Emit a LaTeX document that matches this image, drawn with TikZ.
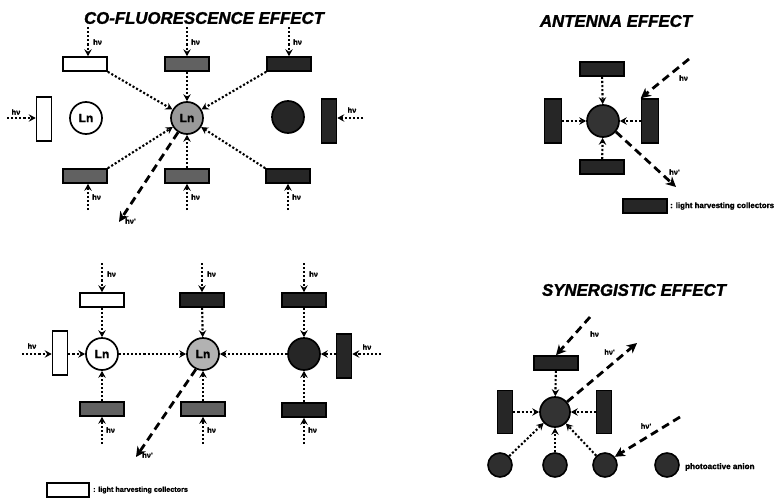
\documentclass[tikz,border=0pt]{standalone}
\usepackage{fontspec}
\setmainfont{Liberation Sans}
\newfontfamily\heavy{Liberation Sans Bold Italic}[FakeBold=1.6]
\newfontfamily\heavyup{Liberation Sans Bold}[FakeBold=1.2]
\usetikzlibrary{arrows.meta,calc}
\tikzset{
  hbox/.style={rectangle,draw=black,line width=1.6pt,minimum width=44pt,minimum height=14pt,inner sep=0pt},
  vbox/.style={rectangle,draw=black,line width=1.6pt,minimum width=15pt,minimum height=44pt,inner sep=0pt},
  ion/.style={circle,draw=black,line width=1.7pt,minimum size=32pt,inner sep=0pt,font=\heavyup\fontsize{12}{12}\selectfont},
  anion/.style={circle,draw=black,line width=1.6pt,minimum size=24pt,inner sep=0pt,fill=black!82},
  light/.style={fill=white},
  mid/.style={fill=black!62},
  dark/.style={fill=black!85},
  dotarr/.style={line width=2.1pt,dash pattern=on 2.1pt off 2pt,-{Stealth[length=7pt,width=7.5pt,inset=2.5pt]}},
  dasharr/.style={line width=2.8pt,dash pattern=on 8pt off 5pt,-{Stealth[length=10pt,width=10pt,inset=3pt]}},
  lab/.style={font=\heavyup\fontsize{7.5}{8}\selectfont,inner sep=1pt},
  ttl/.style={font=\heavy\fontsize{16.8}{17}\selectfont},
  leg/.style={font=\heavyup\fontsize{7.2}{8}\selectfont,inner sep=0pt}
}
\begin{document}
\begin{tikzpicture}[x=1pt,y=-1pt]
\useasboundingbox (0,0) rectangle (781,498);
% ================= CO-FLUORESCENCE =================
\node[ttl] (t1) at (204,18) {CO-FLUORESCENCE EFFECT};
\node[hbox,light] (tA) at (85,64) {};
\node[hbox,mid] (tB) at (187,64) {};
\node[hbox,dark] (tC) at (289,64) {};
\node[hbox,mid] (bA) at (85,176) {};
\node[hbox,mid] (bB) at (187,176) {};
\node[hbox,dark] (bC) at (288,176) {};
\node[vbox,light] (lV) at (44,119) {};
\node[vbox,dark] (rV) at (329,121) {};
\node[ion,fill=white] (cL) at (86,118) {Ln};
\node[ion,fill=black!40] (cM) at (187,118) {Ln};
\node[ion,fill=black!85] (cR) at (288,117) {};
\coordinate (h1) at (88,27); \coordinate (h2) at (187,27); \coordinate (h3) at (289,27);
\coordinate (g1) at (88,210); \coordinate (g2) at (187,210); \coordinate (g3) at (288,210);
\coordinate (hl) at (7,118); \coordinate (hr) at (363,118);
\coordinate (e1) at (119,222);
\draw[dotarr] (h1) -- (h1 |- tA.north);
\draw[dotarr] (h2) -- (tB.north);
\draw[dotarr] (h3) -- (tC.north);
\draw[dotarr] (g1) -- (g1 |- bA.south);
\draw[dotarr] (g2) -- (bB.south);
\draw[dotarr] (g3) -- (bC.south);
\draw[dotarr] (hl) -- (lV.west |- hl);
\draw[dotarr] (hr) -- (rV.east |- hr);
\node[lab,anchor=west] (l1) at (92,42) {hν};
\node[lab,anchor=west] (l2) at (190,42) {hν};
\node[lab,anchor=west] (l3) at (292,42) {hν};
\node[lab,anchor=west] (l4) at (91,197) {hν};
\node[lab,anchor=west] (l5) at (190,197) {hν};
\node[lab,anchor=west] (l6) at (291,197) {hν};
\node[lab] (l7) at (16,112) {hν};
\node[lab] (l8) at (352,110) {hν};
\draw[dotarr] (tA.south east) -- (cM);
\draw[dotarr] (tC.south west) -- (cM);
\draw[dotarr] (bA.north east) -- (cM);
\draw[dotarr] (bC.north west) -- (cM);
\draw[dotarr] (tB) -- (cM);
\draw[dotarr] (bB) -- (cM);
\draw[dasharr] (cM.238) -- (e1);
\node[lab,anchor=west] (l9) at (124,221) {hν'};
% ================= ANTENNA =================
\node[ttl] (t2) at (616,21) {ANTENNA EFFECT};
\node[hbox,dark] (aT) at (602,69) {};
\node[hbox,dark] (aB) at (602,167) {};
\node[vbox,dark,minimum width=17pt] (aL) at (553,121) {};
\node[vbox,dark,minimum width=17pt] (aR) at (650,121) {};
\node[ion,fill=black!80] (aC) at (603,121) {};
\draw[dotarr] (aT) -- (aC);
\draw[dotarr] (aB) -- (aC);
\draw[dotarr] (aL) -- (aC);
\draw[dotarr] (aR) -- (aC);
\coordinate (ai) at (689,59);
\coordinate (ao) at (676,187);
\draw[dasharr] (ai) -- (aR.north west);
\draw[dasharr] (aC.-40) -- (ao);
\node[lab,anchor=west] (l10) at (678,78) {hν};
\node[lab,anchor=west] (l11) at (668,172) {hν'};
\node[hbox,dark] (lg1) at (645,206) {};
\node[leg,anchor=west,font=\heavyup\fontsize{7.9}{9}\selectfont] (lt1) at (670,206) {: light harvesting collectors};
% ================= BOTTOM LEFT =================
\node[hbox,light] (p1) at (102,300) {};
\node[hbox,dark] (p2) at (202,300) {};
\node[hbox,dark] (p3) at (304,300) {};
\node[hbox,mid] (q1) at (102,409) {};
\node[hbox,mid] (q2) at (203,409) {};
\node[hbox,dark] (q3) at (304,410) {};
\node[vbox,light] (v1) at (60,353) {};
\node[vbox,dark] (v2) at (344,356) {};
\node[ion,fill=white] (k1) at (102,354) {Ln};
\node[ion,fill=black!30] (k2) at (203,354) {Ln};
\node[ion,fill=black!85] (k3) at (304,354) {};
\coordinate (m1) at (102,263); \coordinate (m2) at (202,263); \coordinate (m3) at (304,263);
\coordinate (n1) at (102,444); \coordinate (n2) at (203,444); \coordinate (n3) at (304,444);
\coordinate (ml) at (22,354); \coordinate (mr) at (381,354);
\coordinate (e2) at (136,457);
\draw[dotarr] (m1) -- (p1.north);
\draw[dotarr] (m2) -- (p2.north);
\draw[dotarr] (m3) -- (p3.north);
\draw[dotarr] (n1) -- (q1.south);
\draw[dotarr] (n2) -- (q2.south);
\draw[dotarr] (n3) -- (q3.south);
\draw[dotarr] (ml) -- (v1.west |- ml);
\draw[dotarr] (mr) -- (v2.east |- mr);
\draw[dotarr] (p1) -- (k1);
\draw[dotarr] (p2) -- (k2);
\draw[dotarr] (p3) -- (k3);
\draw[dotarr] (q1) -- (k1);
\draw[dotarr] (q2) -- (k2);
\draw[dotarr] (q3) -- (k3);
\draw[dotarr] (v1.east |- k1) -- (k1);
\draw[dotarr] (k1) -- (k2);
\draw[dotarr] (k3) -- (k2);
\draw[dotarr] (v2.west |- k3) -- (k3);
\draw[dasharr] (k2.245) -- (e2);
\node[lab,anchor=west] (m4) at (106,274) {hν};
\node[lab,anchor=west] (m5) at (206,274) {hν};
\node[lab,anchor=west] (m6) at (308,274) {hν};
\node[lab,anchor=west] (m7) at (105,430) {hν};
\node[lab,anchor=west] (m8) at (206,430) {hν};
\node[lab,anchor=west] (m9) at (307,430) {hν};
\node[lab] (m10) at (32,346) {hν};
\node[lab] (m11) at (367,347) {hν};
\node[lab,anchor=west] (m12) at (141,455) {hν'};
\node[hbox,light,minimum width=42pt] (lg2) at (68,490) {};
\node[leg,anchor=west] (lt2) at (93,490) {: light harvesting collectors};
% ================= SYNERGISTIC =================
\node[ttl] (t3) at (634,290) {SYNERGISTIC EFFECT};
\node[hbox,dark] (sT) at (556,363) {};
\node[vbox,dark,minimum height=43pt] (sL) at (505,412) {};
\node[vbox,dark,minimum height=43pt] (sR) at (604,412) {};
\node[ion,fill=black!80,minimum size=30pt] (sC) at (555,412) {};
\node[anion] (a1) at (500,465) {};
\node[anion] (a2) at (555,465) {};
\node[anion] (a3) at (605,465) {};
\node[anion] (a4) at (667,465) {};
\draw[dotarr] (sT) -- (sC);
\draw[dotarr] (sL) -- (sC);
\draw[dotarr] (sR) -- (sC);
\draw[dotarr] (a1) -- (sC);
\draw[dotarr] (a2) -- (sC);
\draw[dotarr] (a3) -- (sC);
\coordinate (si) at (590,317);
\coordinate (so) at (637,343);
\coordinate (sj) at (680,417);
\draw[dasharr] (si) -- (sT.north);
\draw[dasharr] (sC.40) -- (so);
\draw[dasharr] (sj) -- (a3.40);
\node[lab,anchor=west] (s1) at (589,334) {hν};
\node[lab,anchor=east] (s2) at (616,352) {hν'};
\node[lab] (s3) at (646,426) {hν'};
\node[leg,anchor=west,font=\heavyup\fontsize{8.1}{9}\selectfont] (lt3) at (685,467) {photoactive anion};
\end{tikzpicture}
\end{document}
